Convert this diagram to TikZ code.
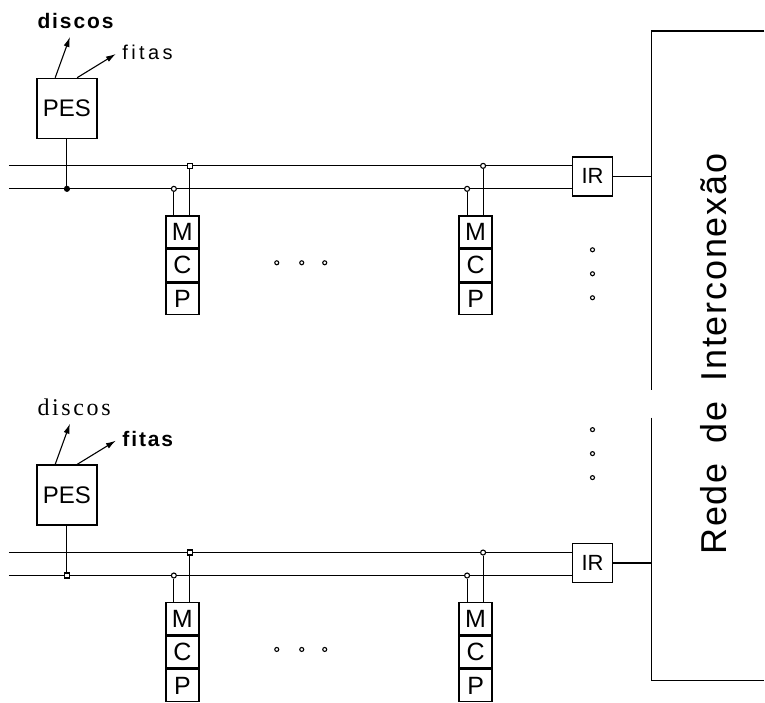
\documentclass[tikz,border=0pt]{standalone}
\usepackage{fontspec}
\setmainfont{Liberation Sans}
\newfontfamily\romfont{Liberation Serif}
\usetikzlibrary{arrows.meta,positioning}

\begin{document}
\begin{tikzpicture}[x=1pt,y=-1pt,line width=1.1pt,>={Latex[length=10pt,width=6pt]},
  box/.style={draw,line width=1.5pt,inner sep=0pt},
  unit/.style={box,minimum width=33pt,minimum height=32pt,font=\fontsize{25}{26}\selectfont},
  lbl/.style={inner sep=0pt,anchor=base west},
  boldlbl/.style={lbl,font=\fontsize{21}{22}\selectfont\bfseries\addfontfeature{LetterSpace=9}},
  plainlbl/.style={lbl,font=\fontsize{20}{22}\selectfont\addfontfeature{LetterSpace=17}},
  seriflbl/.style={lbl,font=\fontsize{24}{26}\selectfont\romfont\addfontfeature{LetterSpace=11}},
  jround/.style={circle,draw,fill=black,inner sep=0pt,minimum size=5pt},
  jring/.style={circle,draw,fill=white,inner sep=0pt,minimum size=5pt},
  jsquare/.style={rectangle,draw,fill=white,inner sep=0pt,minimum size=5pt}]
  \fill[white] (0,0) rectangle (765,698);
  % two clusters, the lower one shifted down
  \foreach \s/\dy/\ld/\lf/\jp in {A/0/boldlbl/plainlbl/jround,B/387/seriflbl/boldlbl/jsquare} {
    \node[box,minimum size=60pt,font=\fontsize{24}{26}\selectfont] (pes\s) at (67,108.5+\dy) {PES};
    \node[\ld] (dis\s) at (37,28.5+\dy) {discos};
    \node[\lf] (fit\s) at (122,60+\dy) {fitas};
    \draw[->] ([xshift=19pt]pes\s.north west) -- ([shift={(33pt,-8.5pt)}]dis\s.base west);
    \draw[->] ([xshift=41pt]pes\s.north west) -- ([shift={(-6pt,6pt)}]fit\s.base west);
    \node[box,minimum width=40pt,minimum height=39pt,font=\fontsize{22}{24}\selectfont] (ir\s) at (593,176.5+\dy) {IR};
    \coordinate (bu\s) at (9,166+\dy); \coordinate (bl\s) at (9,189+\dy);
    \draw (bu\s) -- (bu\s -| ir\s.west);
    \draw (bl\s) -- (bl\s -| ir\s.west);
    \node[\jp] (jp\s) at (67,189+\dy) {};
    \draw (pes\s.south) -- (jp\s.north);
    \foreach \m/\mx/\ju in {1/182.5/jsquare,2/476/jring} {
      \node[unit] (m\m\s) at (\mx,232+\dy) {M};
      \node[unit,below=0pt of m\m\s] (c\m\s) {C};
      \node[unit,below=0pt of c\m\s] (p\m\s) {P};
      \node[jring] (jl\m\s) at (\mx-8.5,189+\dy) {};
      \node[\ju] (ju\m\s) at (\mx+7.5,166+\dy) {};
      \draw (jl\m\s.south) -- (jl\m\s.south |- m\m\s.north);
      \draw (ju\m\s.south) -- (ju\m\s.south |- m\m\s.north);
    }
    \foreach \x in {277,302,325} \draw (\x,263+\dy) circle (2pt);
  }
  \foreach \y in {250,274,298,430,454,478} \draw (593,\y) circle (2pt);
  % interconnection network
  \coordinate (ntr) at (765,31); \coordinate (ntl) at (652,31);
  \coordinate (nm1) at (652,390); \coordinate (nm2) at (652,418);
  \coordinate (nbl) at (652,681); \coordinate (nbr) at (765,681);
  \draw[line width=1.3pt] (ntr) -- (ntl) -- (nm1);
  \draw[line width=1.3pt] (nm2) -- (nbl) -- (nbr);
  \draw (irA.east) -- (irA.east -| ntl);
  \draw (irB.east) -- (irB.east -| ntl);
  \node[rotate=90,anchor=base,inner sep=0pt,font=\fontsize{36}{40}\selectfont\addfontfeature{LetterSpace=5}] (rede) at (727,354.5) {Rede\hspace{20pt}de\hspace{20pt}Interconexão};
\end{tikzpicture}
\end{document}
